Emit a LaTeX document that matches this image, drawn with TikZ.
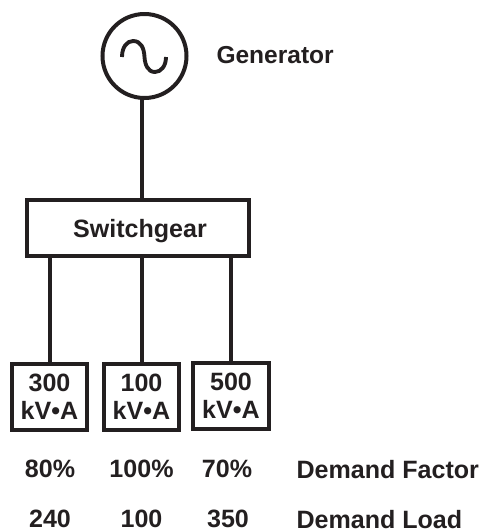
\documentclass[tikz,border=0pt]{standalone}
\usepackage{fontspec}
\setmainfont{Liberation Sans}
\usetikzlibrary{positioning}
\definecolor{inkdark}{RGB}{35, 31, 32}

\begin{document}
\begin{tikzpicture}[x=0.75pt, y=-0.75pt, line width=3pt, color=inkdark,
    label/.style={font=\fontsize{18.8}{21}\selectfont\bfseries, inner sep=0pt, text depth=0pt},
    box/.style={rectangle, draw, inner sep=0pt, text depth=0pt, font=\fontsize{18.8}{21}\selectfont\bfseries},
    load/.style={box, align=center, minimum width=56.6pt, minimum height=49.5pt}]
    \useasboundingbox (0, 0) rectangle (480, 529);

    % Generator
    \node[circle, draw, minimum size=63pt, inner sep=0pt] (generator) at (144.5, 56) {};
    \draw[line width=2.9pt] (122, 57) .. controls (122, 47) and (127, 41) .. (133, 41)
        .. controls (141, 41) and (144, 48) .. (144.5, 57)
        .. controls (145, 65) and (148, 72) .. (155, 72)
        .. controls (161, 72) and (166, 66) .. (166, 57);
    \node[label, anchor=west, font=\fontsize{18.4}{21}\selectfont\bfseries] (genlabel) at (214.5, 55) {Generator};

    % Switchgear
    \node[box, minimum width=166pt, minimum height=41.5pt] (switchgear) at (138, 228) {\hspace*{3pt}Switchgear};

    % Loads
    \node[load] (load1) at (49.5, 397) {300\\kV•A};
    \node[load] (load2) at (141.5, 397) {100\\kV•A};
    \node[load] (load3) at (231, 396) {500\\kV•A};

    % Connectors
    \draw (load2 |- generator.south) -- (load2 |- switchgear.north);
    \draw (load1 |- switchgear.south) -- (load1.north);
    \draw (load2 |- switchgear.south) -- (load2.north);
    \draw (load3 |- switchgear.south) -- (load3.north);

    % Demand factor
    \node[label] (factor1) at (50, 469) {80\%};
    \node[label] (factor2) at (141.5, 469) {100\%};
    \node[label] (factor3) at (227, 469) {70\%};
    \node[label, anchor=west] (factorlabel) at (294.5, 469) {Demand Factor};

    % Demand load
    \node[label] (demand1) at (50, 519) {240};
    \node[label] (demand2) at (141.5, 519) {100};
    \node[label] (demand3) at (228, 519) {350};
    \node[label, anchor=west] (demandlabel) at (294.5, 519) {Demand Load};
\end{tikzpicture}
\end{document}
